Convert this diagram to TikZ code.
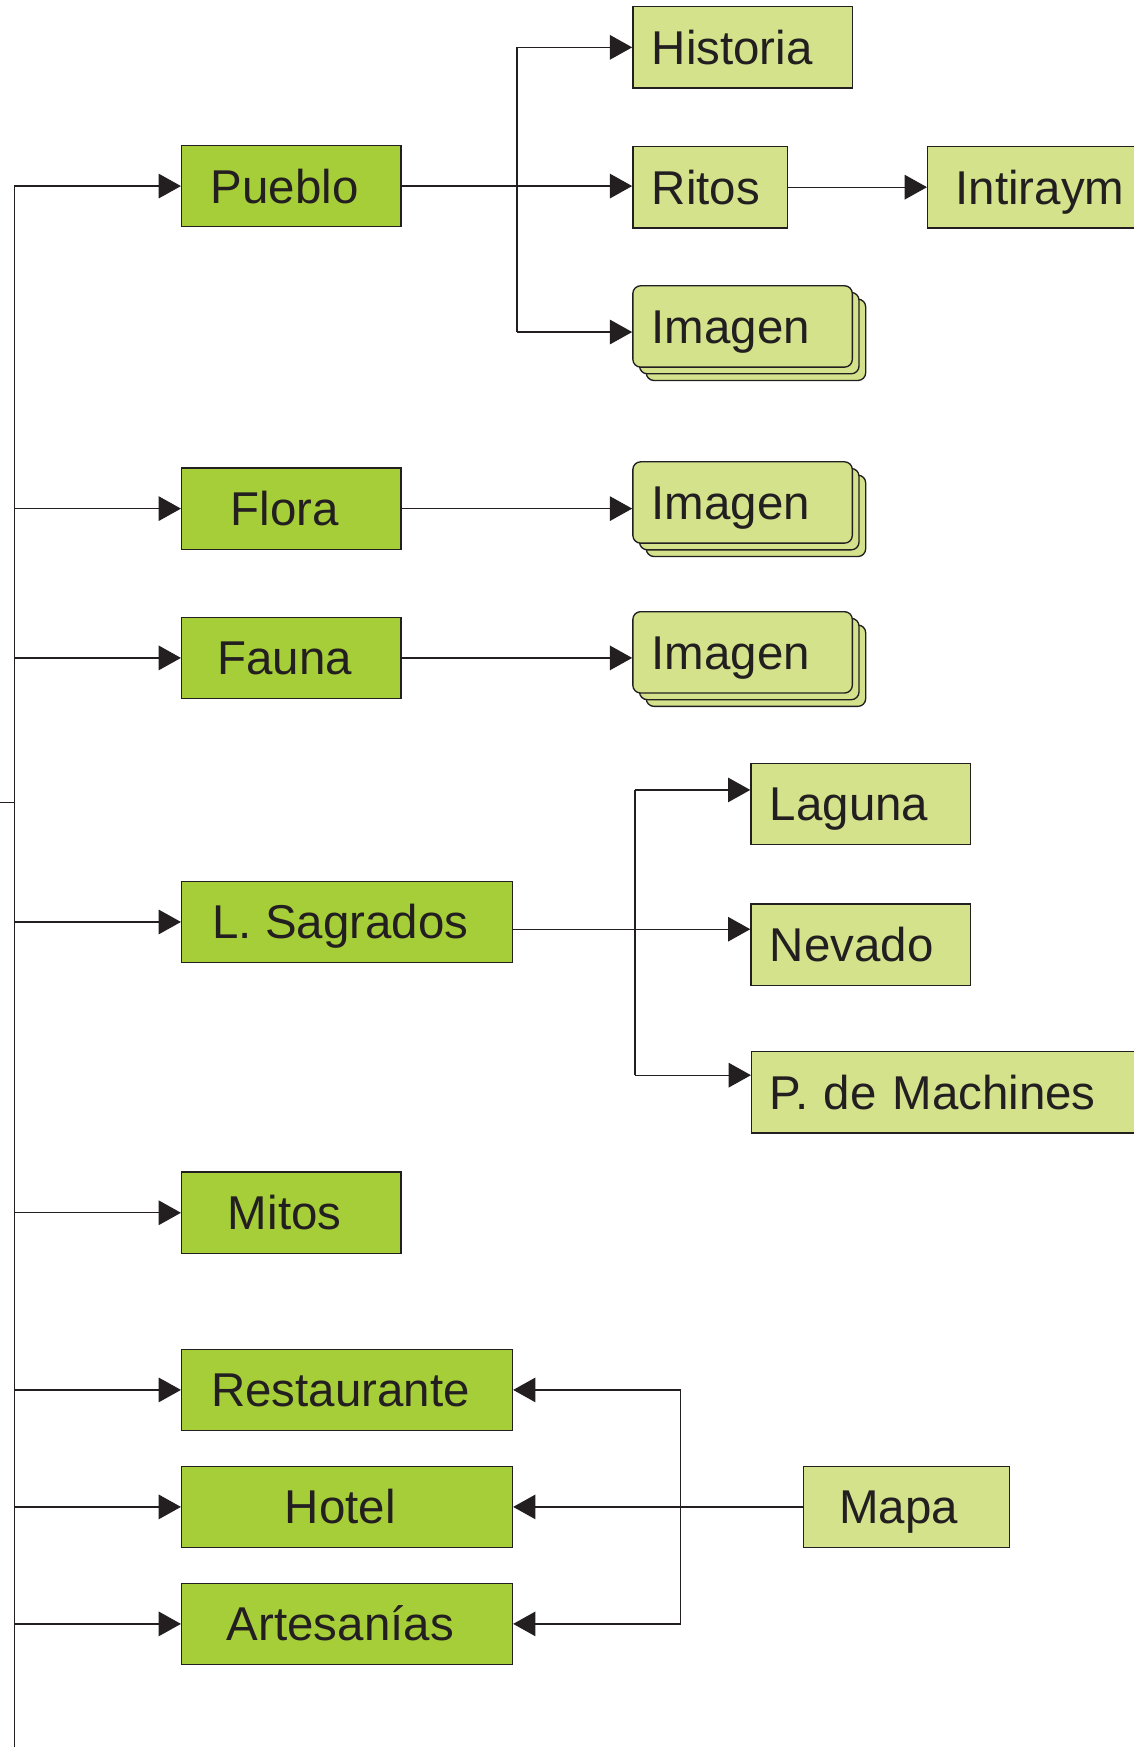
\documentclass[tikz,border=0pt]{standalone}
\usepackage{fontspec}
\setmainfont{Liberation Sans}
\usetikzlibrary{arrows.meta,shadows}
\definecolor{mainfill}{HTML}{A6CE39}
\definecolor{subfill}{HTML}{D3E28B}
\definecolor{linec}{HTML}{231F20}
\begin{document}
\begin{tikzpicture}[x=0.5pt,y=-0.5pt,
  font=\fontsize{21.3}{25}\selectfont,
  base/.style={draw=linec, line width=0.6pt, text=linec, text height=15.25pt, text depth=0pt, minimum height=36.5pt, inner ysep=0pt},
  mainbox/.style={base, fill=mainfill, minimum width=#1, execute at end node={\hspace*{6pt}}},
  subbox/.style={base, fill=subfill, text width=#1, align=left, inner xsep=8.5pt},
  stackbox/.style={subbox=#1, rounded corners=3.5pt, double copy shadow={shadow xshift=3pt, shadow yshift=-3pt, fill=subfill, draw=linec, line width=0.6pt}},
  conn/.style={draw=linec, line width=0.6pt},
  arr/.style={conn, -{Triangle[length=10pt,width=11pt]}}]
\useasboundingbox[fill=white] (0,0) rectangle (1017,1568);

% main boxes
\node[mainbox=98.5pt] (pueblo) at (261.5,167) {Pueblo};
\node[mainbox=98.5pt] (flora) at (261.5,456.5) {Flora};
\node[mainbox=98.5pt] (fauna) at (261.5,590.5) {Fauna};
\node[mainbox=148.5pt] (sagrados) at (311.5,827.5) {L. Sagrados};
\node[mainbox=98.5pt] (mitos) at (261.5,1088.5) {Mitos};
\node[mainbox=148.5pt] (rest) at (311.5,1247.5) {Restaurante};
\node[mainbox=148.5pt] (hotel) at (311.5,1352.5) {Hotel};
\node[mainbox=148.5pt] (artes) at (311.5,1457.5) {Artesanías};

% sub boxes
\node[subbox=81.5pt] (historia) at (666.5,42.5) {Historia};
\node[subbox=52.5pt] (ritos) at (637.5,168) {Ritos};
\node[subbox=110pt, inner xsep=12.5pt, anchor=west] (inti) at (832,168) {Intiraym};
\node[stackbox=81.5pt] (img1) at (666.5,293) {Imagen};
\node[stackbox=81.5pt] (img2) at (666.5,451) {Imagen};
\node[stackbox=81.5pt] (img3) at (666.5,585.5) {Imagen};
\node[subbox=81.5pt] (laguna) at (772.5,721.5) {Laguna};
\node[subbox=81.5pt] (nevado) at (772.5,848) {Nevado};
\node[subbox=160pt, inner xsep=8pt, anchor=west] (pdm) at (674,980.5) {P. de Machines};
\node[base, fill=subfill, minimum width=92.5pt, execute at end node={\hspace*{7pt}}] (mapa) at (813.5,1352.5) {Mapa};

% trunk
\coordinate (trunkTop) at (13,167);
\coordinate (trunkBot) at (13,1568);
\coordinate (stub) at (0,720);
\draw[conn] (trunkTop) -- (trunkBot);
\draw[conn] (stub) -- (stub -| trunkTop);
\foreach \n in {pueblo,flora,fauna,sagrados,mitos,rest,hotel,artes}
  \draw[arr] (trunkTop |- \n.west) -- (\n.west);

% Pueblo branch
\coordinate (pb) at (464,0);
\coordinate (img1in) at ([yshift=-2.5pt]img1.west);
\draw[conn] (pb |- historia.west) -- (pb |- img1in);
\draw[arr] (pueblo.east) -- (pueblo.east -| ritos.west);
\draw[arr] (pb |- historia.west) -- (historia.west);
\draw[arr] (pb |- img1in) -- (img1in);
\draw[arr] (ritos.east) -- (ritos.east -| inti.west);

% Flora, Fauna
\draw[arr] (flora.east) -- (flora.east -| img2.west);
\draw[arr] (fauna.east) -- (fauna.east -| img3.west);

% L. Sagrados branch
\coordinate (sout) at ([yshift=-3.25pt]sagrados.east);
\coordinate (sb) at (570,0);
\coordinate (lagin) at ([yshift=6.25pt]laguna.west);
\coordinate (pdmin) at ([yshift=7.75pt]pdm.west);
\draw[conn] (sb |- lagin) -- (sb |- pdmin);
\draw[arr] (sout) -- (sout -| nevado.west);
\draw[arr] (sb |- lagin) -- (lagin);
\draw[arr] (sb |- pdmin) -- (pdmin);

% Mapa branch
\coordinate (mb) at (611,0);
\draw[conn] (mb |- rest.east) -- (mb |- artes.east);
\draw[arr] (mapa.west) -- (mapa.west -| hotel.east);
\draw[arr] (mb |- rest.east) -- (rest.east);
\draw[arr] (mb |- artes.east) -- (artes.east);
\end{tikzpicture}
\end{document}
